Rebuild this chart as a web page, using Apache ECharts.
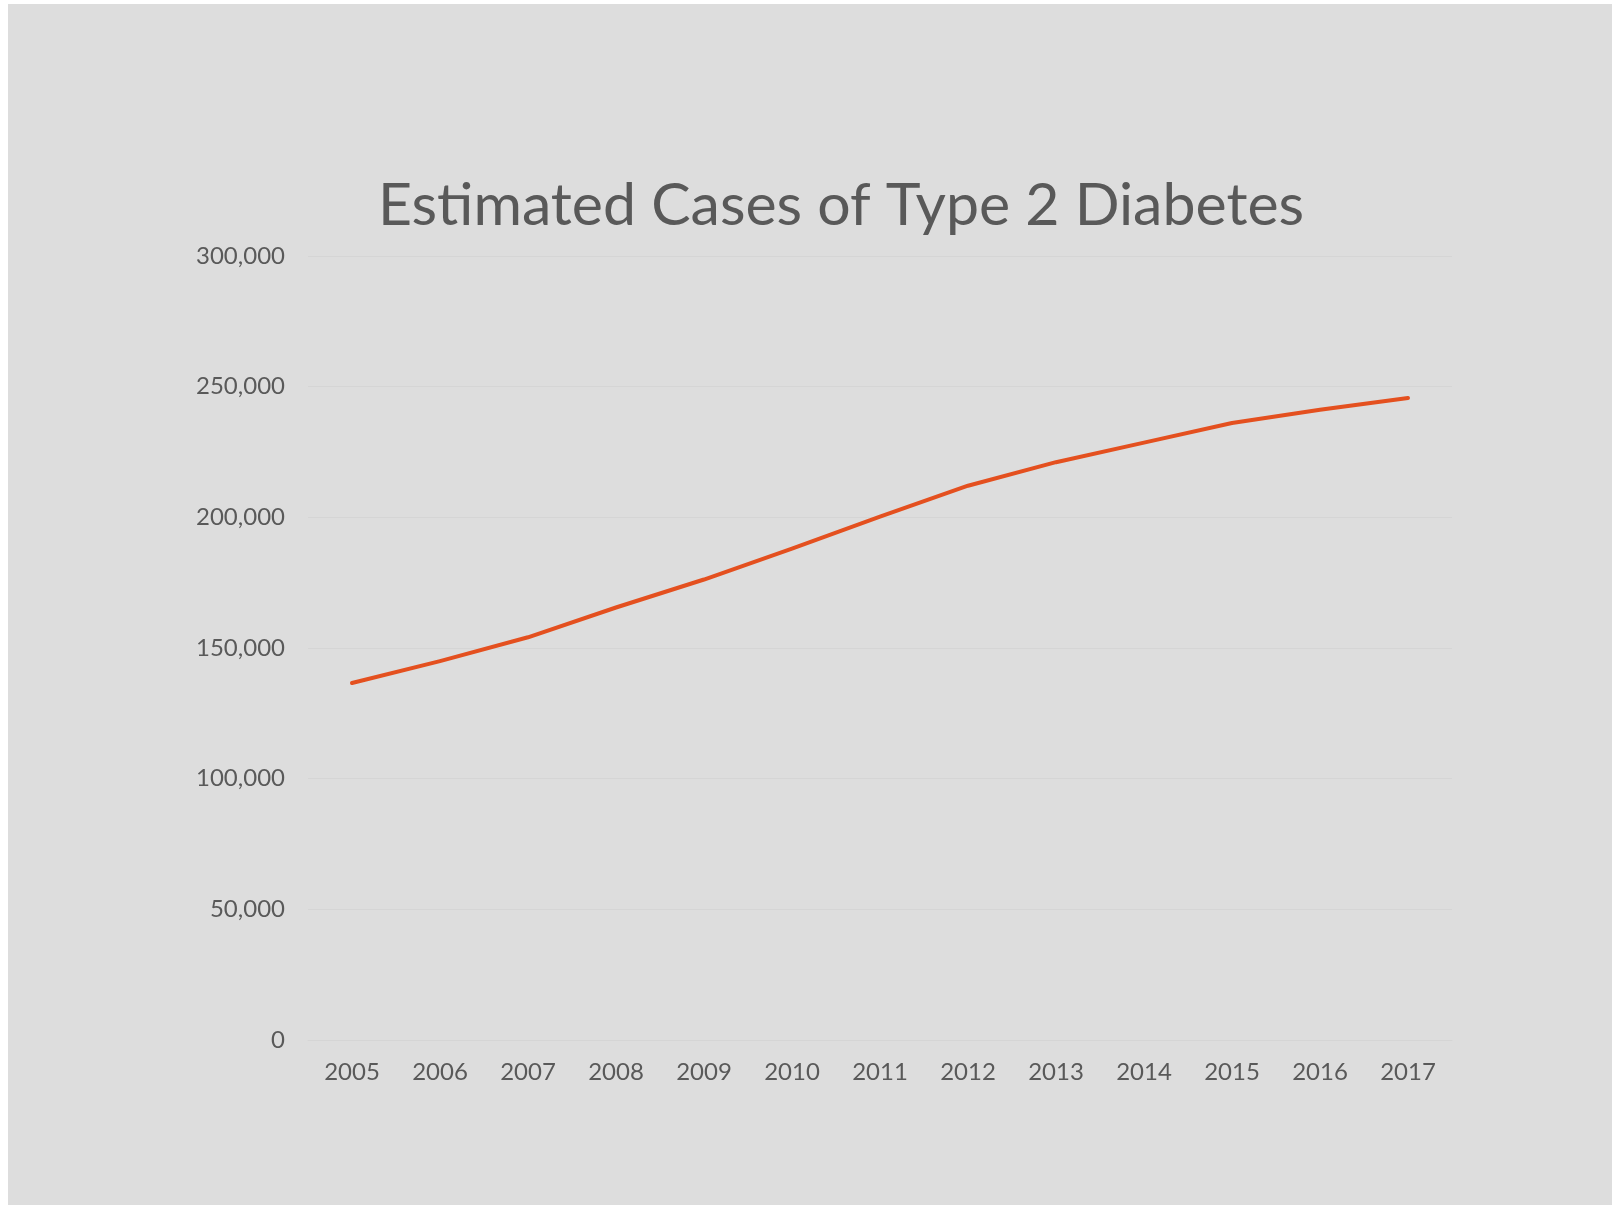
<!DOCTYPE html>
<html>
<head>
<meta charset="utf-8">
<script src="https://cdn.jsdelivr.net/npm/echarts@6/dist/echarts.min.js"></script>
<style>
html, body { margin: 0; padding: 0; background: #ffffff; }
#chart { position: absolute; left: 8px; top: 4px; width: 1604px; height: 1201px; background: #dddddd; }
</style>
</head>
<body>
<div id="chart"></div>
<script>
const years = ['2005','2006','2007','2008','2009','2010','2011','2012','2013','2014','2015','2016','2017'];
const cases = [136600, 145000, 154100, 165500, 176200, 188000, 200300, 212100, 221100, 228600, 236100, 241200, 245700];
const titleText = 'Estimated Cases of Type 2 Diabetes';

const chart = echarts.init(document.getElementById('chart'));
chart.setOption({
  backgroundColor: '#dddddd',
  animation: false,
  title: {
    text: titleText,
    left: 828,
    textAlign: 'center',
    top: 167,
    textStyle: { fontFamily: 'Lato', fontSize: 59, fontWeight: 'normal', color: '#595959' }
  },
  grid: { left: 300, right: 160, top: 252, bottom: 165 },
  xAxis: {
    type: 'category',
    data: years,
    boundaryGap: true,
    axisLine: { show: true, lineStyle: { color: '#d5d5d5', width: 1 } },
    axisTick: { show: false },
    axisLabel: { margin: 20, fontFamily: 'Lato', fontSize: 24, color: '#595959' }
  },
  yAxis: {
    type: 'value',
    min: 0, max: 300000, interval: 50000,
    axisLine: { show: false },
    axisTick: { show: false },
    splitLine: { lineStyle: { color: '#d5d5d5', width: 1 } },
    axisLabel: {
      margin: 23, fontFamily: 'Lato', fontSize: 24, color: '#595959',
      formatter: v => v.toLocaleString('en-US')
    }
  },
  series: [{
    type: 'line',
    data: cases,
    symbol: 'none',
    lineStyle: { color: '#e4501f', width: 4, cap: 'round', join: 'round' }
  }]
});
</script>
</body>
</html>
